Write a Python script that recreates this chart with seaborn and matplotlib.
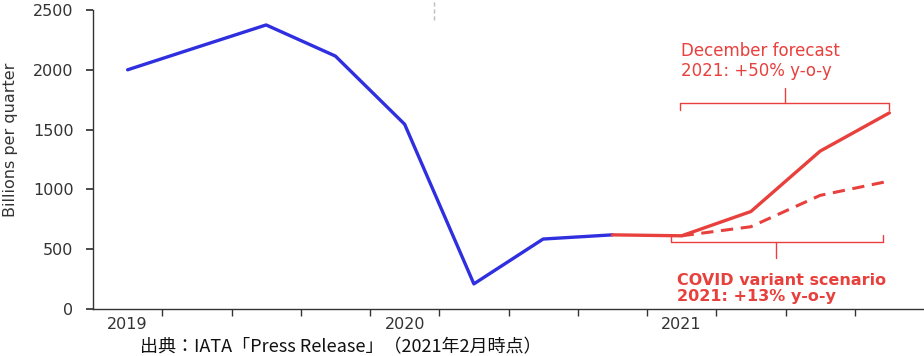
import numpy as np
import pandas as pd
import seaborn as sns
import matplotlib.pyplot as plt

# ---------- data ----------
quarters = ["2019Q1", "2019Q2", "2019Q3", "2019Q4",
            "2020Q1", "2020Q2", "2020Q3", "2020Q4",
            "2021Q1", "2021Q2", "2021Q3", "2021Q4"]
actual = [2000, 2188, 2375, 2115, 1545, 210, 585, 620]
forecast_dec = [620, 612, 815, 1320, 1640]
forecast_variant = [612, 688, 950, 1070]
year_labels = ["2019", "2020", "2021"]

BLUE = "#2f2fe0"
RED = "#e8403c"
GREY = "#333333"

sns.set_theme(style="white")
plt.rcParams["font.family"] = ["DejaVu Sans"]

fig = plt.figure(figsize=(9.24, 3.56), dpi=100)
ax = fig.add_axes([93 / 924, 1 - 309 / 356, 1 - 93 / 924, 299 / 356])

x = np.arange(len(quarters))
df_act = pd.DataFrame({"q": x[:len(actual)], "v": actual})
df_dec = pd.DataFrame({"q": x[7:7 + len(forecast_dec)], "v": forecast_dec})
df_var = pd.DataFrame({"q": x[8:8 + len(forecast_variant)], "v": forecast_variant})

sns.lineplot(data=df_act, x="q", y="v", ax=ax, color=BLUE, lw=2.4)
sns.lineplot(data=df_dec, x="q", y="v", ax=ax, color=RED, lw=2.4)
sns.lineplot(data=df_var, x="q", y="v", ax=ax, color=RED, lw=2.2,
             linestyle=(0, (4, 2.5)))

ax.set_xlim(-0.5, len(quarters) - 0.5)
ax.set_ylim(0, 2500)
ax.set_yticks(range(0, 2501, 500))
ax.set_xticks([0, 4, 8])
ax.set_xticklabels(year_labels)
ax.set_xticks(np.arange(0.5, len(quarters) - 0.5, 1), minor=True)
ax.tick_params(axis="x", which="major", length=0, pad=6, labelsize=11.5,
               labelcolor=GREY)
ax.tick_params(axis="x", which="minor", length=5, color=GREY,
               direction="out", bottom=True)
ax.tick_params(axis="y", length=5, color=GREY, direction="out",
               left=True, labelsize=11.5, labelcolor=GREY, pad=9)
ax.set_xlabel("")
ax.set_ylabel("Billions per quarter", fontsize=11.5, color=GREY)
ax.yaxis.set_label_coords(-75 / 831, 0.565)
for s in ["top", "right"]:
    ax.spines[s].set_visible(False)
for s in ["left", "bottom"]:
    ax.spines[s].set_color(GREY)
    ax.spines[s].set_linewidth(1.0)

# small faint dashed mark at the top
ax.plot([4.43, 4.43], [2420, 2590], color="#bbbbbb", lw=1.0,
        linestyle=(0, (3, 2)), clip_on=False)

# brackets
ax.plot([7.97, 7.97, 11.0, 11.0], [1660, 1722, 1722, 1660], color=RED, lw=1.0)
ax.plot([9.49, 9.49], [1722, 1850], color=RED, lw=1.0)
ax.text(7.99, 2235, "December forecast\n2021: +50% y-o-y", color=RED,
        fontsize=12, linespacing=1.15, va="top")

ax.plot([7.85, 7.85, 10.91, 10.91], [620, 560, 560, 620], color=RED, lw=1.0)
ax.plot([9.37, 9.37], [560, 425], color=RED, lw=1.0)
ax.text(7.93, 300, "COVID variant scenario\n2021: +13% y-o-y", color=RED,
        fontsize=11.5, fontweight="bold", linespacing=1.1, va="top")

fig.text(140 / 924, 1 - 347 / 356, "出典：IATA「Press Release」（2021年2月時点）",
         fontsize=13, color="#111111", va="center",
         family=["Noto Sans CJK JP", "DejaVu Sans"])

fig.savefig("out.png", dpi=100)
